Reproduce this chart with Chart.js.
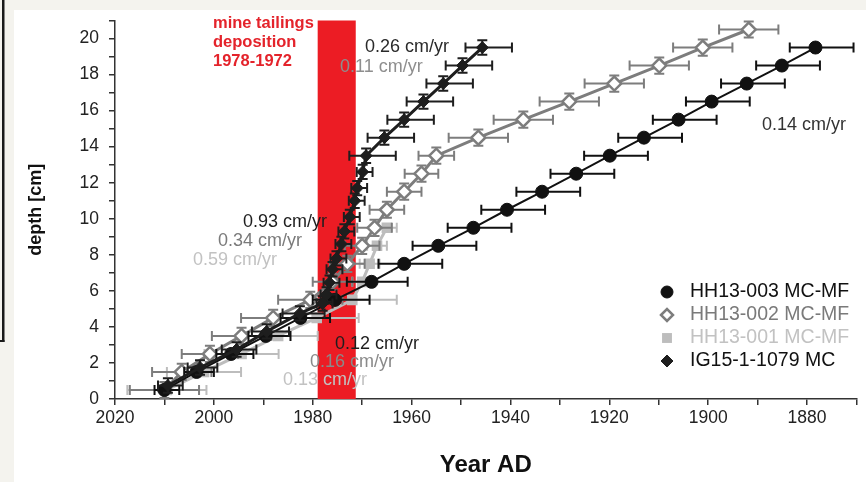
<!DOCTYPE html>
<html lang="en">
<head>
  <meta charset="UTF-8">
  <title>Age-depth profiles</title>
  <script src="https://cdn.jsdelivr.net/npm/chart.js"></script>
  <style>
    body {
      margin: 0;
      background: #f4f3ee;
    }
    #wrap {
      width: 866px;
      height: 482px;
    }
  </style>
</head>
<body>
  <div id="wrap"><canvas id="ageDepth" width="866" height="482"></canvas></div>

  <script>
    // HH13-003 MC-MF
    const hh003Depth = [0.5, 1.5, 2.5, 3.5, 4.5, 5.5, 6.5, 7.5, 8.5, 9.5, 10.5, 11.5, 12.5, 13.5, 14.5, 15.5, 16.5, 17.5, 18.5, 19.5];
    const hh003Year = [2010, 2003.5, 1996.5, 1989.5, 1982.5, 1975.5, 1968.1, 1961.5, 1954.6, 1947.5, 1940.7, 1933.6, 1926.7, 1919.9, 1913.0, 1906.0, 1899.3, 1892.2, 1885.1, 1878.3];
    const hh003ErrYoung = [2, 2.5, 3, 3.5, 4, 4.5, 5, 5.2, 5.2, 5.2, 5.2, 5.2, 5.2, 5.2, 5.2, 5.2, 5.2, 5.2, 5.2, 5.2];
    const hh003ErrOld = [3, 3.5, 4.5, 5, 6, 7, 7.3, 7.7, 7.7, 7.7, 7.7, 7.7, 7.7, 7.7, 7.7, 7.7, 7.7, 7.7, 7.7, 7.7];

    // HH13-002 MC-MF
    const hh002Depth = [0.5, 1.5, 2.5, 3.5, 4.5, 5.5, 6.5, 7.5, 8.5, 9.5, 10.5, 11.5, 12.5, 13.5, 14.5, 15.5, 16.5, 17.5, 18.5, 19.5, 20.5];
    const hh002Year = [2010, 2006.5, 2000.8, 1994.4, 1988, 1980.5, 1976, 1973, 1970, 1967.5, 1965, 1961.5, 1958, 1955, 1946.5, 1937.4, 1928.1, 1919, 1909.9, 1901.1, 1891.8];
    const hh002Err = [7, 6, 5.7, 6, 6.5, 6.5, 4, 3.5, 3.5, 3.5, 3.5, 3.5, 3.4, 3.6, 6, 6, 6, 6, 6, 6, 6];

    // HH13-001 MC-MF
    const hh001Depth = [0.5, 1.5, 2.5, 3.5, 4.5, 5.5, 6.5, 7.5, 8.5, 9.5];
    const hh001Year = [2009.5, 2002, 1994.4, 1987, 1979.2, 1972, 1970, 1968.5, 1967, 1965];
    const hh001Err = [8, 7.5, 7.5, 8, 8.5, 9, 2, 2, 2, 2];

    // IG15-1-1079 MC
    const igDepth = [0.75, 1.75, 2.75, 3.75, 4.75, 5.3, 5.8, 6.45, 7.2, 7.8, 8.6, 9.3, 10.1, 11.0, 11.7, 12.6, 13.5, 14.5, 15.5, 16.5, 17.5, 18.5, 19.5];
    const igYear = [2009.3, 2002.8, 1995.4, 1989.3, 1982.6, 1978, 1977.2, 1976.6, 1976, 1975.2, 1974.2, 1973.6, 1972.5, 1971.5, 1971, 1969.9, 1969.2, 1965.5, 1961.5, 1957.6, 1953.6, 1949.7, 1945.7];
    const igErrYoung = [2, 2.5, 3, 3, 3.5, 1.2, 1.2, 1.2, 1.2, 1.2, 1.2, 1.2, 1.2, 1.2, 1.2, 1.2, 3.4, 3.4, 3.4, 3.4, 3.4, 3.4, 3.4];
    const igErrOld = [3, 3.5, 4, 4.5, 5, 2, 2, 2, 2, 2, 2, 2, 2, 2, 2, 2, 6, 6, 6, 6, 6, 6, 6];

    // mine tailings deposition period
    const bandFrom = 1979;
    const bandTo = 1971.3;

    const xTicksMin = 1870;
    const xTicksMax = 2020;
    const depthMax = 21;

    const FONT = "'Liberation Sans', Arial, sans-serif";

    function toPoints(years, depths) {
      return years.map((yr, i) => ({ x: yr, y: depths[i] }));
    }

    const series = [
      {
        label: 'IG15-1-1079 MC',
        data: toPoints(igYear, igDepth),
        borderColor: '#1e1e1e',
        backgroundColor: '#1e1e1e',
        borderWidth: 3,
        pointStyle: 'rectRot',
        pointRadius: 6,
        pointBorderWidth: 1,
        errYoung: igErrYoung,
        errOld: igErrOld,
        errDepth: 0.4,
        textColor: '#111'
      },
      {
        label: 'HH13-003 MC-MF',
        data: toPoints(hh003Year, hh003Depth),
        borderColor: '#111',
        backgroundColor: '#111',
        borderWidth: 2,
        pointStyle: 'circle',
        pointRadius: 6.5,
        pointBorderWidth: 1,
        errYoung: hh003ErrYoung,
        errOld: hh003ErrOld,
        errDepth: 0,
        textColor: '#111'
      },
      {
        label: 'HH13-002 MC-MF',
        data: toPoints(hh002Year, hh002Depth),
        borderColor: '#7d7d7d',
        backgroundColor: '#ffffff',
        pointBorderColor: '#7d7d7d',
        borderWidth: 3,
        pointStyle: 'rectRot',
        pointRadius: 7,
        pointBorderWidth: 2.5,
        errYoung: hh002Err,
        errOld: hh002Err,
        errDepth: 0.45,
        textColor: '#7a7a7a'
      },
      {
        label: 'HH13-001 MC-MF',
        data: toPoints(hh001Year, hh001Depth),
        borderColor: '#bdbdbd',
        backgroundColor: '#bdbdbd',
        borderWidth: 3,
        pointStyle: 'rect',
        pointRadius: 7.5,
        pointBorderWidth: 0,
        errYoung: hh001Err,
        errOld: hh001Err,
        errDepth: 0,
        textColor: '#c2c2c2'
      }
    ];

    // order shown in the key
    const legendOrder = ['HH13-003 MC-MF', 'HH13-002 MC-MF', 'HH13-001 MC-MF', 'IG15-1-1079 MC'];

    // sedimentation rate notes: text, colour, left x / middle y in px
    const rateNotes = [
      ['0.26 cm/yr', '#2a2a2a', 365, 47],
      ['0.11 cm/yr', '#8e8e8e', 340, 67],
      ['0.93 cm/yr', '#1e1e1e', 243, 222],
      ['0.34 cm/yr', '#7a7a7a', 218, 241],
      ['0.59 cm/yr', '#c2c2c2', 193, 260],
      ['0.12 cm/yr', '#1e1e1e', 335, 344],
      ['0.16 cm/yr', '#8a8a8a', 310, 362],
      ['0.13 cm/yr', '#c2c2c2', 283, 380],
      ['0.14 cm/yr', '#333333', 762, 125]
    ];

    const bandText = ['mine tailings', 'deposition', '1978-1972'];

    const pagePaint = {
      id: 'pagePaint',
      beforeDraw(chart) {
        const ctx = chart.ctx;
        ctx.save();
        ctx.fillStyle = '#f4f3ee';
        ctx.fillRect(0, 0, chart.width, chart.height);
        ctx.fillStyle = '#ffffff';
        ctx.fillRect(14, 10, chart.width - 14, chart.height - 10);
        // edge of the neighbouring panel
        ctx.fillStyle = '#1a1a1a';
        ctx.fillRect(2, 0, 2.5, 342);
        ctx.fillRect(0, 340, 4.5, 2);
        ctx.restore();
      }
    };

    const tailingsBand = {
      id: 'tailingsBand',
      beforeDatasetsDraw(chart) {
        const { ctx, scales: { x, y } } = chart;
        const x0 = x.getPixelForValue(bandFrom);
        const x1 = x.getPixelForValue(bandTo);
        const y0 = y.getPixelForValue(depthMax);
        const y1 = y.getPixelForValue(0);
        ctx.save();
        ctx.fillStyle = '#ec1c24';
        ctx.fillRect(x0, y0, x1 - x0, y1 - y0);
        ctx.restore();
      }
    };

    const errorBars = {
      id: 'errorBars',
      beforeDatasetDraw(chart, args) {
        const ds = chart.data.datasets[args.index];
        const { ctx, scales: { x, y } } = chart;
        const cap = 5;
        ctx.save();
        ctx.strokeStyle = ds.borderColor;
        ctx.lineWidth = 2;
        ds.data.forEach((p, i) => {
          const px = x.getPixelForValue(p.x);
          const py = y.getPixelForValue(p.y);
          const xl = x.getPixelForValue(p.x + ds.errYoung[i]);
          const xr = x.getPixelForValue(p.x - ds.errOld[i]);
          ctx.beginPath();
          ctx.moveTo(xl, py);
          ctx.lineTo(xr, py);
          ctx.moveTo(xl, py - cap);
          ctx.lineTo(xl, py + cap);
          ctx.moveTo(xr, py - cap);
          ctx.lineTo(xr, py + cap);
          if (ds.errDepth) {
            const yt = y.getPixelForValue(p.y + ds.errDepth);
            const yb = y.getPixelForValue(p.y - ds.errDepth);
            ctx.moveTo(px, yt);
            ctx.lineTo(px, yb);
            ctx.moveTo(px - cap, yt);
            ctx.lineTo(px + cap, yt);
            ctx.moveTo(px - cap, yb);
            ctx.lineTo(px + cap, yb);
          }
          ctx.stroke();
        });
        ctx.restore();
      }
    };

    const notesAndKey = {
      id: 'notesAndKey',
      afterDatasetsDraw(chart) {
        const ctx = chart.ctx;
        ctx.save();
        ctx.textBaseline = 'middle';
        ctx.textAlign = 'left';

        ctx.font = 'bold 16.5px ' + FONT;
        ctx.fillStyle = '#e4232b';
        bandText.forEach((t, i) => ctx.fillText(t, 213, 23 + i * 19));

        ctx.font = '18px ' + FONT;
        rateNotes.forEach(([t, c, lx, ly]) => {
          ctx.fillStyle = c;
          ctx.fillText(t, lx, ly);
        });

        // key, lower right
        ctx.font = '19.5px ' + FONT;
        legendOrder.forEach((name, i) => {
          const ds = chart.data.datasets.find(d => d.label === name);
          const ky = 292 + i * 23;
          ctx.fillStyle = ds.backgroundColor;
          ctx.strokeStyle = ds.pointBorderColor || ds.borderColor;
          ctx.lineWidth = ds.pointBorderWidth;
          Chart.helpers.drawPoint(ctx, {
            pointStyle: ds.pointStyle,
            radius: ds.pointStyle === 'rect' ? 7 : 6,
            borderWidth: ds.pointBorderWidth,
            rotation: 0
          }, 667, ky);
          ctx.fillStyle = ds.textColor;
          ctx.fillText(name, 690, ky);
        });
        ctx.restore();
      }
    };

    const ctx = document.getElementById('ageDepth').getContext('2d');

    new Chart(ctx, {
      type: 'scatter',
      data: {
        datasets: series.map(s => Object.assign({ showLine: true, tension: 0, pointHoverRadius: s.pointRadius }, s))
      },
      options: {
        responsive: false,
        animation: false,
        layout: { padding: { top: 18, right: 8, left: 0, bottom: 0 } },
        plugins: {
          legend: { display: false },
          tooltip: { enabled: false }
        },
        scales: {
          x: {
            type: 'linear',
            position: 'bottom',
            min: xTicksMin,
            max: xTicksMax,
            reverse: true,
            afterFit: s => { s.height = 83; },
            ticks: {
              stepSize: 10,
              autoSkip: false,
              maxRotation: 0,
              padding: 3,
              color: '#222',
              font: { family: FONT, size: 17.5 },
              callback: v => (v % 20 === 0 ? v : '')
            },
            grid: { drawOnChartArea: false, tickLength: 6, color: '#333', lineWidth: 1.5 },
            border: { color: '#333', width: 1.5 },
            title: {
              display: true,
              text: 'Year AD',
              color: '#111',
              font: { family: FONT, size: 24, weight: 'bold' },
              padding: { top: 0, bottom: 2 }
            }
          },
          y: {
            type: 'linear',
            min: 0,
            max: depthMax,
            afterFit: s => { s.width = 115; },
            ticks: {
              stepSize: 1,
              autoSkip: false,
              padding: 10,
              color: '#222',
              font: { family: FONT, size: 17.5 },
              callback: v => (v % 2 === 0 && v <= 20 ? v : '')
            },
            grid: { drawOnChartArea: false, tickLength: 6, color: '#333', lineWidth: 1.5 },
            border: { color: '#333', width: 1.5 },
            title: {
              display: true,
              text: 'depth [cm]',
              color: '#111',
              font: { family: FONT, size: 18, weight: 'bold' },
              padding: { top: 25, bottom: 0 }
            }
          }
        }
      },
      plugins: [pagePaint, tailingsBand, errorBars, notesAndKey]
    });
  </script>
</body>
</html>
